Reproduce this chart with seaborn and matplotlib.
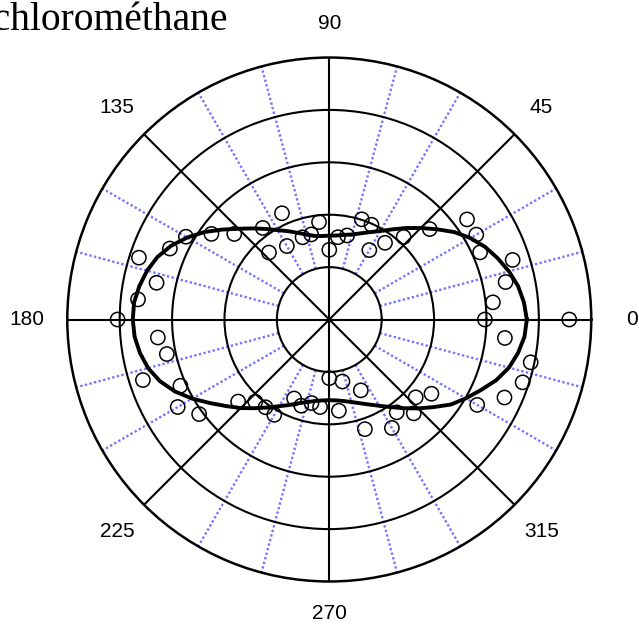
import numpy as np
import pandas as pd
import matplotlib
matplotlib.use("Agg")
import matplotlib.pyplot as plt
import seaborn as sns

# measured points (angle in degrees, radius)
point_deg = [0, 6, 12, 18, 24, 30, 36, 42, 48, 54, 60, 66, 72, 78, 84, 90,
             96, 102, 108, 114, 120, 126, 132, 138, 144, 150, 156, 162, 168, 174, 180,
             186, 192, 198, 204, 210, 216, 222, 228, 234, 240, 246, 252, 258, 264, 270,
             276, 282, 288, 294, 300, 306, 312, 318, 324, 330, 336, 342, 348, 354, 360]
point_r = [2.97, 3.14, 3.44, 3.68, 3.15, 3.24, 3.25, 2.58, 2.12, 1.81, 1.53, 1.98, 2.01, 1.64, 1.58, 1.33,
           1.87, 1.66, 1.65, 2.22, 1.62, 2.16, 1.72, 2.44, 2.78, 3.16, 3.33, 3.82, 3.37, 3.67, 4.04,
           3.29, 3.17, 3.74, 3.11, 3.34, 3.07, 2.34, 2.11, 2.07, 2.10, 1.65, 1.73, 1.63, 1.68, 1.12,
           1.75, 1.21, 2.20, 1.48, 2.39, 2.19, 2.41, 2.22, 2.41, 3.26, 3.66, 3.88, 3.93, 3.37, 4.58]

# fitted curve
curve_deg = [0, 5, 10, 15, 20, 25, 30, 35, 40, 45, 50, 55, 60, 65, 70, 75, 80, 85, 90,
             95, 100, 105, 110, 115, 120, 125, 130, 135, 140, 145, 150, 155, 160, 165, 170, 175, 180,
             185, 190, 195, 200, 205, 210, 215, 220, 225, 230, 235, 240, 245, 250, 255, 260, 265, 270,
             275, 280, 285, 290, 295, 300, 305, 310, 315, 320, 325, 330, 335, 340, 345, 350, 355, 360]
curve_r = [3.77, 3.73, 3.66, 3.55, 3.42, 3.28, 3.11, 2.91, 2.68, 2.47, 2.28, 2.10, 1.95, 1.84, 1.75, 1.68, 1.64, 1.61, 1.60,
           1.60, 1.62, 1.68, 1.76, 1.86, 1.97, 2.11, 2.27, 2.45, 2.67, 2.91, 3.13, 3.33, 3.49, 3.60, 3.68, 3.74, 3.75,
           3.73, 3.67, 3.58, 3.44, 3.25, 3.02, 2.78, 2.57, 2.39, 2.21, 2.05, 1.91, 1.80, 1.70, 1.63, 1.58, 1.55, 1.54,
           1.55, 1.58, 1.63, 1.70, 1.79, 1.90, 2.04, 2.21, 2.40, 2.60, 2.83, 3.01, 3.19, 3.39, 3.55, 3.66, 3.74, 3.77]

major_deg = [0, 45, 90, 135, 180, 225, 270, 315]
label_r = [5.78, 5.73, 5.64, 5.73, 5.78, 5.73, 5.62, 5.73]
minor_deg = [15, 30, 60, 75, 105, 120, 150, 165, 195, 210, 240, 255, 285, 300, 330, 345]
ring_r = [1, 2, 3, 4]
r_max = 5

points = pd.DataFrame({"theta": np.deg2rad(point_deg), "r": point_r})
curve = pd.DataFrame({"theta": np.deg2rad(curve_deg), "r": curve_r})

fig = plt.figure(figsize=(6.39, 6.26), dpi=100)
ax = fig.add_axes([0.1053, 0.0711, 0.820, 0.837], projection="polar")

ax.set_rlim(0, r_max)
ax.set_rticks(ring_r)
ax.set_yticklabels([])
ax.set_xticks(np.deg2rad(major_deg))
ax.set_xticks(np.deg2rad(minor_deg), minor=True)
ax.set_xticklabels([])
ax.grid(True, which="major", color="black", linestyle="-", linewidth=1.5)
ax.tick_params(axis="x", which="major", direction="out", length=5, width=1.5, color="black")
ax.tick_params(axis="x", which="minor", direction="inout", length=8, width=1.3, color="black")
ax.spines["polar"].set_linewidth(1.8)
ax.spines["polar"].set_color("black")

# dotted blue spokes between the major ones
ax.vlines(np.deg2rad(minor_deg), 1, r_max, colors="#7676ff", linestyles=(0, (1, 1)), linewidth=1.7, zorder=1)

sns.lineplot(data=curve, x="theta", y="r", ax=ax, sort=False, estimator=None,
             color="black", linewidth=2.8, zorder=4)
sns.scatterplot(data=points, x="theta", y="r", ax=ax, marker="o", s=105,
                facecolors="none", edgecolor="black", linewidth=1.1, zorder=5)
ax.set_xlabel("")
ax.set_ylabel("")

for d, lr in zip(major_deg, label_r):
    ax.text(np.deg2rad(d), lr, str(d), ha="center", va="center", fontsize=15,
            family="Liberation Sans", clip_on=False)

fig.text(-46 / 639, 1 - 29.5 / 626, "Dichlorométhane", ha="left", va="baseline",
         fontsize=28.5, family="Liberation Serif")

fig.savefig("out.png", dpi=100)
